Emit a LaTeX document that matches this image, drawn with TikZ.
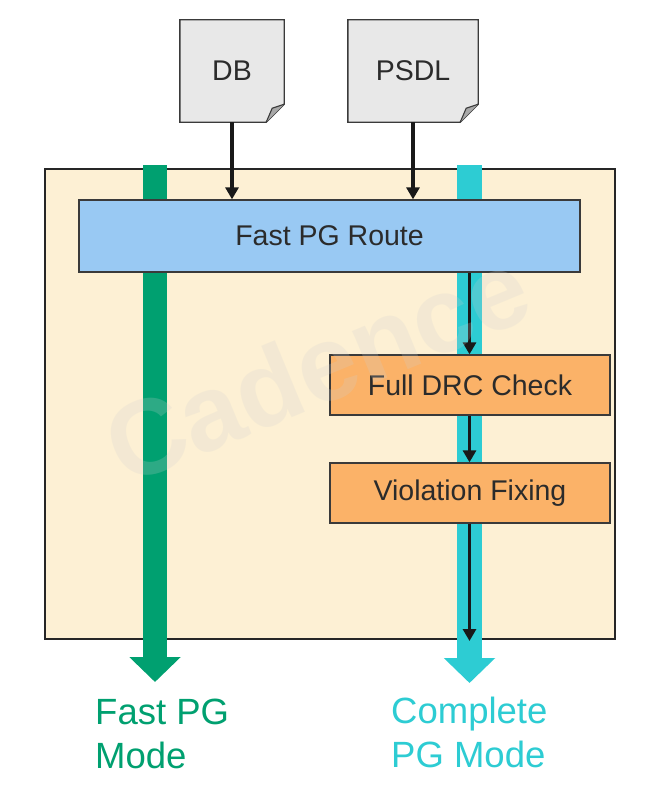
\documentclass[tikz,border=0pt]{standalone}
\usepackage{fontspec}
\setmainfont{Liberation Sans}
\usetikzlibrary{arrows.meta,backgrounds}
\definecolor{framefill}{HTML}{FDF0D4}
\definecolor{routefill}{HTML}{99C9F3}
\definecolor{stepfill}{HTML}{FBB268}
\definecolor{docfill}{HTML}{E8E8E8}
\definecolor{docfold}{HTML}{A8A8A8}
\definecolor{edgegray}{HTML}{3A3A3A}
\definecolor{txtgray}{HTML}{2B2B2B}
\definecolor{pgreen}{HTML}{00A070}
\definecolor{pcyan}{HTML}{2DCCD3}
\definecolor{wmark}{HTML}{D0D0D0}
\tikzset{
  boxtext/.style={font=\fontsize{28.5}{34}\selectfont, text=txtgray},
  mainframe/.style={draw=black!85, line width=2pt, fill=framefill, inner sep=0pt},
  procbox/.style={draw=edgegray, line width=1.3pt, inner sep=0pt, boxtext},
  routebox/.style={procbox, fill=routefill},
  stepbox/.style={procbox, fill=stepfill},
  docnode/.style={inner sep=0pt, boxtext, minimum height=102pt},
  docshape/.style={draw=edgegray, line width=1.4pt, fill=docfill},
  flow/.style={draw=black!90, line width=3.6pt, -{Triangle[length=12pt,width=13pt]}},
  greenflow/.style={draw=pgreen, line width=24pt, -{Triangle[length=25pt,width=50pt]}},
  cyanflow/.style={draw=pcyan, line width=25pt, -{Triangle[length=25pt,width=50pt]}},
  modelabel/.style={font=\fontsize{36.5}{44}\selectfont, align=left, inner sep=0pt, anchor=north west},
}
\begin{document}
\begin{tikzpicture}[x=1pt,y=-1pt]
\useasboundingbox (0,0) rectangle (656,800);

% documents
\node[docnode, minimum width=104pt] (db) at (232,71) {DB};
\node[docnode, minimum width=130pt] (psdl) at (413,71) {PSDL};
\begin{scope}[on background layer]
\fill[white] (0,0) rectangle (656,800);
\foreach \d in {db,psdl}{
  \draw[docshape] (\d.north west) -- (\d.north east) -- ([yshift=18pt]\d.south east)
     -- ([xshift=-18pt]\d.south east) -- (\d.south west) -- cycle;
  \fill[docfold] ([yshift=18pt]\d.south east) -- ([xshift=-18pt]\d.south east)
     -- ([xshift=-12pt,yshift=14pt]\d.south east) -- cycle;
  \draw[edgegray, line width=1.1pt] ([yshift=18pt]\d.south east) -- ([xshift=-12pt,yshift=14pt]\d.south east) -- ([xshift=-18pt]\d.south east);
}
\end{scope}

% main frame
\node[mainframe, minimum width=570pt, minimum height=470pt, anchor=north west] (frame) at (44,168) {};

% mode flows
\coordinate (gtop) at (155,165);
\coordinate (gend) at (155,682);
\coordinate (ctop) at (469.5,165);
\coordinate (cend) at (469.5,683);
\draw[greenflow] (gtop) -- (gend);
\draw[cyanflow] (ctop) -- (cend);

% process boxes
\node[routebox, minimum width=501pt, minimum height=72pt] (route) at (329.5,236) {Fast PG Route};
\node[stepbox, minimum width=280pt, minimum height=60pt] (drc) at (470,385) {Full DRC Check};
\node[stepbox, minimum width=280pt, minimum height=60pt] (fix) at (470,493) {Violation Fixing};

% connectors
\coordinate (fixend) at (469.5,641);
\draw[flow] (db.south) -- (db.south |- route.north);
\draw[flow] (psdl.south) -- (psdl.south |- route.north);
\draw[flow] (route.south -| ctop) -- (drc.north -| ctop);
\draw[flow] (drc.south -| ctop) -- (fix.north -| ctop);
\draw[flow] (fix.south -| ctop) -- (fixend);

% labels
\node[modelabel, text=pgreen] (fastlbl) at (95,699) {Fast PG\\Mode};
\node[modelabel, text=pcyan] (complbl) at (391,697) {Complete\\PG Mode};

% watermark
\node[rotate=22.5, text=wmark, text opacity=0.22, font=\bfseries\fontsize{107}{107}\selectfont] (wm) at (317,366) {Cadence};
\end{tikzpicture}
\end{document}
